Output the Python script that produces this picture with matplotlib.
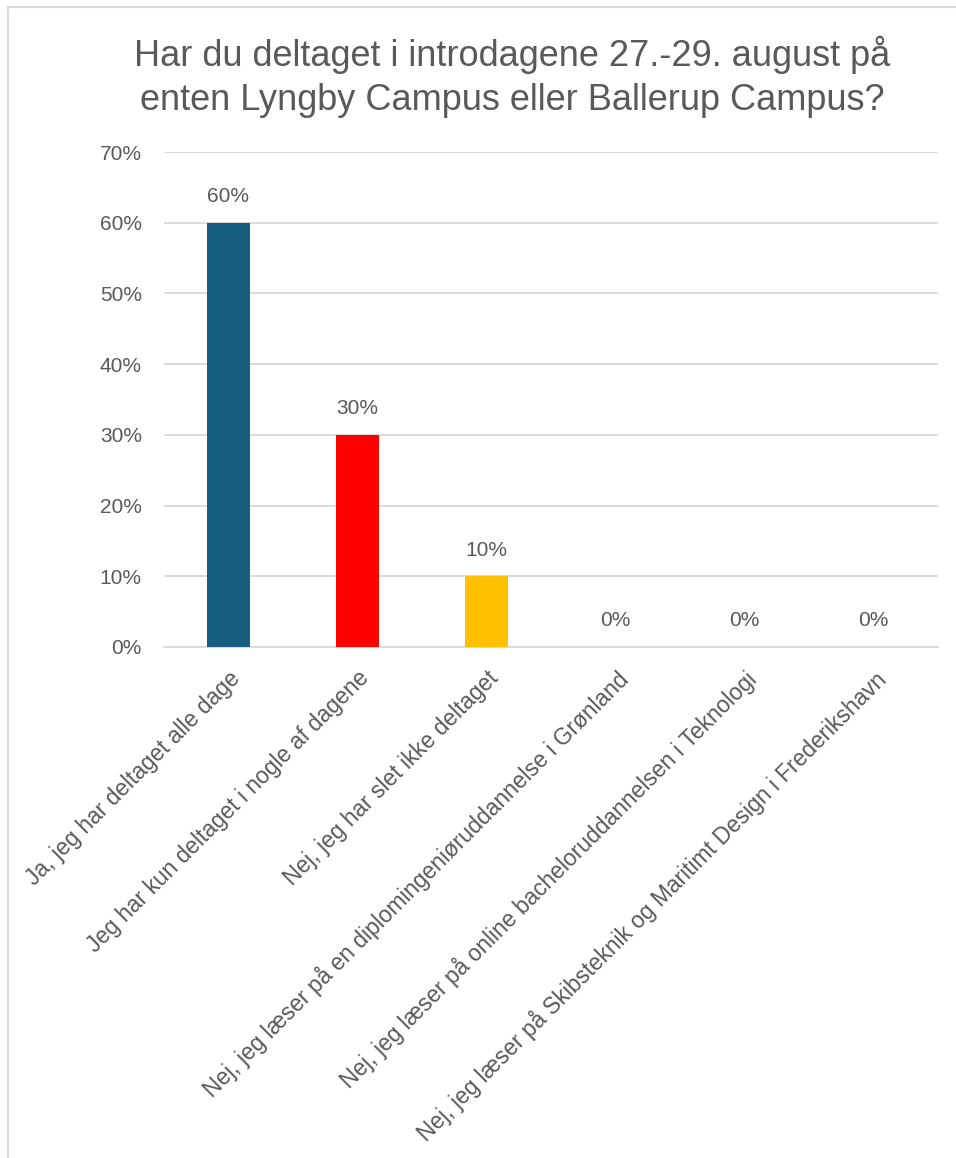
import matplotlib.pyplot as plt
from matplotlib.patches import Rectangle
from matplotlib.ticker import FuncFormatter

# Data
categories = [
    "Ja, jeg har deltaget alle dage",
    "Jeg har kun deltaget i nogle af dagene",
    "Nej, jeg har slet ikke deltaget",
    "Nej, jeg læser på en diplomingeniøruddannelse i Grønland",
    "Nej, jeg læser på online bacheloruddannelsen i Teknologi",
    "Nej, jeg læser på Skibsteknik og Maritimt Design i Frederikshavn",
]
shares = [0.60, 0.30, 0.10, 0.0, 0.0, 0.0]
bar_colors = ["#175E80", "#FF0000", "#FFC000", "#175E80", "#175E80", "#175E80"]
title = "Har du deltaget i introdagene 27.-29. august på\nenten Lyngby Campus eller Ballerup Campus?"

TEXT = "#595959"
GRID = "#D9D9D9"
W, H = 956, 1158

plt.rcParams['font.family'] = ['Liberation Sans', 'DejaVu Sans']

fig = plt.figure(figsize=(W / 100, H / 100), dpi=100)
fig.patch.set_facecolor("white")

# chart frame (only top and left visible in the reference)
fig.add_artist(Rectangle((8 / W, -0.1), 1.2, 1 - 7 / H + 0.1, transform=fig.transFigure,
                         fill=False, edgecolor=GRID, linewidth=1.5))

ax = fig.add_axes([164 / W, 1 - 647 / H, (938 - 164) / W, (647 - 152) / H])
x = range(len(categories))
ax.bar(x, shares, width=0.33, color=bar_colors, zorder=3)

ax.set_xlim(-0.5, len(categories) - 0.5)
ax.set_ylim(0, 0.7)
ax.set_yticks([i / 10 for i in range(8)])
ax.yaxis.set_major_formatter(FuncFormatter(lambda v, _: f"{v:.0%}"))
ax.grid(axis="y", color=GRID, linewidth=1.3, zorder=0)
for s in ["top", "right", "left"]:
    ax.spines[s].set_visible(False)
ax.spines["bottom"].set_color(GRID)
ax.spines["bottom"].set_linewidth(1.3)
ax.tick_params(axis="both", length=0, colors=TEXT, labelsize=15)
ax.tick_params(axis="y", pad=16)

ax.set_xticks(list(x))
ax.set_xticklabels(categories, rotation=45, ha="right", rotation_mode="anchor",
                   fontsize=16.4, color=TEXT)
ax.tick_params(axis="x", pad=14)

for i, v in enumerate(shares):
    ax.annotate(f"{v:.0%}", (i, v), xytext=(0, 12), textcoords="offset points",
                ha="center", va="bottom", fontsize=15, color=TEXT)

fig.text(0.536, 1 - 36 / H, title, ha="center", va="top", fontsize=26,
         color=TEXT, linespacing=1.3)

fig.savefig("out.png", dpi=100, facecolor="white")
